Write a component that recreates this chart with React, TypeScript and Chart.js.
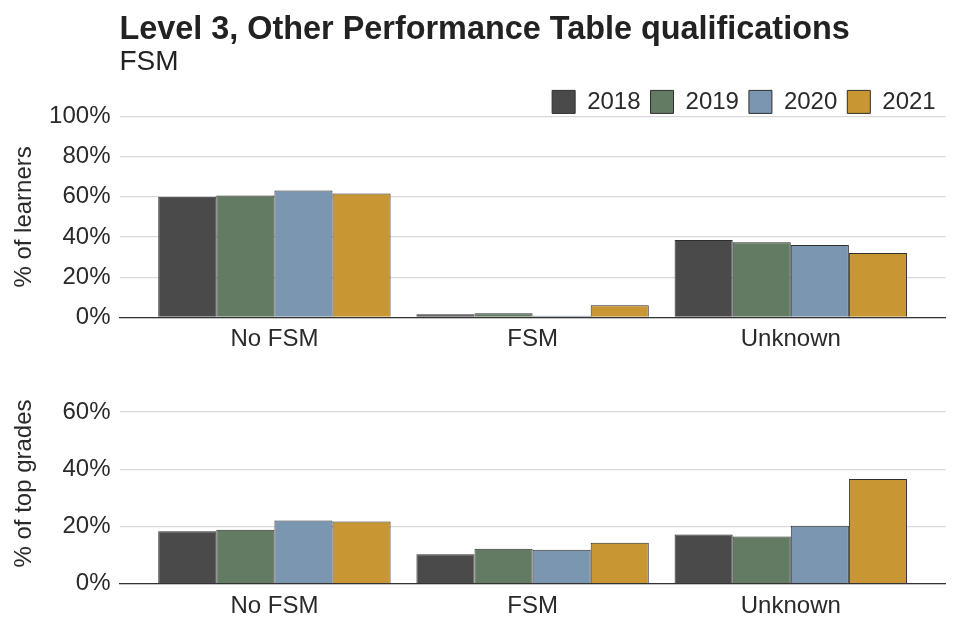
import React, { useEffect, useRef } from "react";
import { Chart, registerables } from "chart.js";

Chart.register(...registerables);

const categories = ["No FSM", "FSM", "Unknown"];
const years = ["2018", "2019", "2020", "2021"];

const learners2018 = [60.0, 1.6, 38.5];
const learners2019 = [60.7, 2.1, 37.4];
const learners2020 = [63.1, 0.8, 36.0];
const learners2021 = [61.7, 6.1, 32.1];

const topGrades2018 = [18.3, 10.3, 17.2];
const topGrades2019 = [18.8, 12.2, 16.5];
const topGrades2020 = [22.1, 11.8, 20.2];
const topGrades2021 = [21.7, 14.3, 36.6];

const learnersTicks = [0, 20, 40, 60, 80, 100];
const topGradesTicks = [0, 20, 40, 60];

const yearColors = ["#4a4a4a", "#637b62", "#7b96b0", "#c89632"];

const FONT = "'Liberation Sans', Arial, sans-serif";
const TEXT = "#2a2a2a";

function makeDatasets(series: number[][]) {
  return series.map((vals, i) => ({
    label: years[i],
    data: vals.map((v, j) => ({ x: j + 1, y: v })),
    backgroundColor: yearColors[i],
    borderColor: "#2e2e2e",
    borderWidth: 1,
    categoryPercentage: 0.9,
    barPercentage: 1.0,
  }));
}

function makeOptions(opts: {
  yTitle: string;
  yMax: number;
  yTicks: number[];
  top: boolean;
  padTop: number;
  padBottom: number;
}): any {
  return {
    responsive: false,
    animation: false,
    layout: {
      padding: { left: 0, right: 14.3, top: opts.padTop, bottom: opts.padBottom },
    },
    plugins: {
      tooltip: { enabled: false },
      title: {
        display: opts.top,
        text: "Level 3, Other Performance Table qualifications",
        align: "start",
        fullSize: false,
        color: "#222222",
        font: { family: FONT, size: 32.4, weight: "bold", lineHeight: 1 },
        padding: { top: 13.4, bottom: 0 },
      },
      subtitle: {
        display: opts.top,
        text: "FSM",
        align: "start",
        fullSize: false,
        color: "#222222",
        font: { family: FONT, size: 28, lineHeight: 1 },
        padding: { top: 2.6, bottom: 3.5 },
      },
      legend: {
        display: opts.top,
        position: "top",
        align: "end",
        fullSize: false,
        maxHeight: 36.5,
        labels: {
          boxWidth: 23,
          boxHeight: 23,
          padding: 10,
          color: TEXT,
          font: { family: FONT, size: 24 },
        },
      },
    },
    scales: {
      x: {
        type: "linear",
        min: 0.4,
        max: 3.6,
        offset: false,
        grid: { display: false, drawTicks: false },
        border: { display: true, color: "#333333", width: 1.2 },
        afterBuildTicks: (axis: any) => {
          axis.ticks = categories.map((_, i) => ({ value: i + 1 }));
        },
        ticks: {
          color: TEXT,
          padding: 8,
          maxRotation: 0,
          autoSkip: false,
          font: { family: FONT, size: 24, lineHeight: 1.2 },
          callback: (_v: any, i: number) => categories[i],
        },
      },
      y: {
        min: 0,
        max: opts.yMax,
        grid: { color: "#d9d9d9", lineWidth: 1.2, drawTicks: false },
        border: { display: false },
        afterBuildTicks: (axis: any) => {
          axis.ticks = opts.yTicks.map((v) => ({ value: v }));
        },
        afterFit: (scale: any) => {
          scale.width = 119.5;
        },
        ticks: {
          color: TEXT,
          padding: 9,
          font: { family: FONT, size: 24, lineHeight: 1.2 },
          callback: (v: any) => `${v}%`,
        },
        title: {
          display: true,
          text: opts.yTitle,
          color: TEXT,
          padding: { top: 9.5, bottom: 0 },
          font: { family: FONT, size: 24, lineHeight: 1.2 },
        },
      },
    },
  };
}

function BarPanel(props: {
  top0: number;
  width: number;
  height: number;
  series: number[][];
  yTitle: string;
  yMax: number;
  yTicks: number[];
  top: boolean;
  padTop: number;
  padBottom: number;
}) {
  const ref = useRef<HTMLCanvasElement | null>(null);
  useEffect(() => {
    if (!ref.current) return;
    const chart = new Chart(ref.current, {
      type: "bar",
      data: { datasets: makeDatasets(props.series) as any },
      options: makeOptions(props),
    });
    return () => chart.destroy();
  }, []);
  return (
    <canvas
      ref={ref}
      width={props.width}
      height={props.height}
      style={{
        position: "absolute",
        left: 0,
        top: props.top0,
        display: "block",
        width: props.width,
        height: props.height,
      }}
    />
  );
}

export default function App() {
  return (
    <div
      style={{
        position: "absolute",
        left: 0,
        top: 0,
        width: 960,
        height: 640,
        background: "#ffffff",
      }}
    >
      <BarPanel
        top0={0}
        width={960}
        height={370}
        series={[learners2018, learners2019, learners2020, learners2021]}
        yTitle="% of learners"
        yMax={100}
        yTicks={learnersTicks}
        top={true}
        padTop={0}
        padBottom={7.8}
      />
      <BarPanel
        top0={360}
        width={960}
        height={280}
        series={[topGrades2018, topGrades2019, topGrades2020, topGrades2021]}
        yTitle="% of top grades"
        yMax={70}
        yTicks={topGradesTicks}
        top={false}
        padTop={21.6}
        padBottom={11.6}
      />
    </div>
  );
}
